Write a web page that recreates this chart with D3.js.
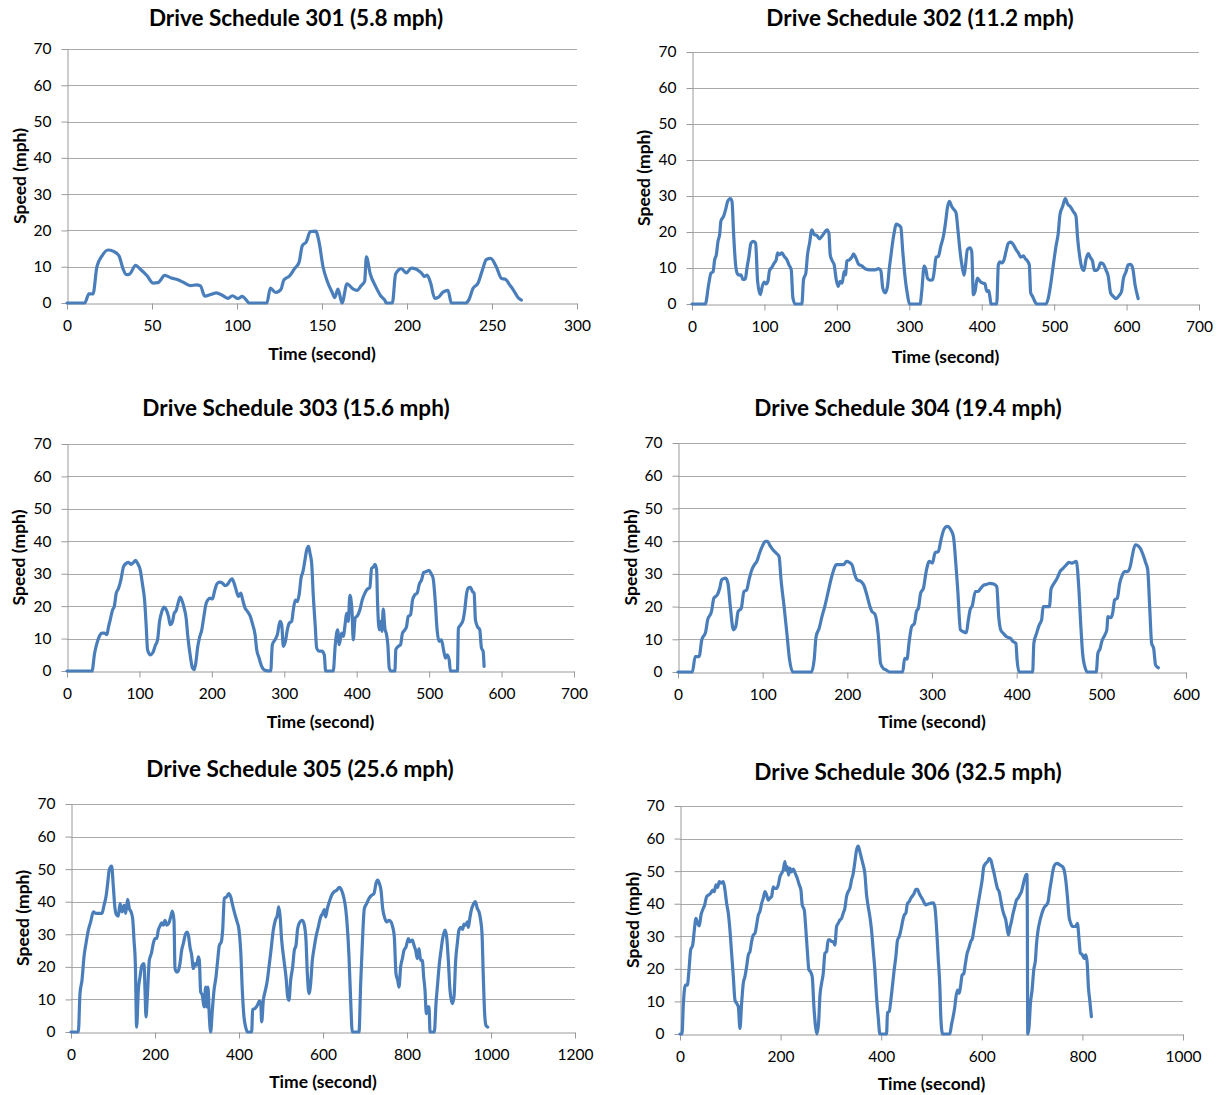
<!DOCTYPE html>
<html>
<head>
<meta charset="utf-8">
<script src="https://cdn.jsdelivr.net/npm/d3@7"></script>
<style>
  html, body { margin: 0; padding: 0; background: #fff; }
  svg { display: block; }
  text { font-family: Lato, "Liberation Sans", sans-serif; fill: #000; }
</style>
</head>
<body>
<svg id="chart" width="1221" height="1095"></svg>
<script>
// ---------------- DATA ----------------
const titles = [
  "Drive Schedule 301 (5.8 mph)",
  "Drive Schedule 302 (11.2 mph)",
  "Drive Schedule 303 (15.6 mph)",
  "Drive Schedule 304 (19.4 mph)",
  "Drive Schedule 305 (25.6 mph)",
  "Drive Schedule 306 (32.5 mph)"
];
const xAxisTitle = "Time (second)";
const yAxisTitle = "Speed (mph)";
const xMax = [300, 700, 700, 600, 1200, 1000];
const xTickStep = [50, 100, 100, 100, 200, 200];
const yTicks = [0, 10, 20, 30, 40, 50, 60, 70];

// [time (s), speed (mph)]
const speed301 = [[0,0],[10.4,0],[12.9,2.5],[15.3,2.5],[17.6,10],[20.6,13],[24.1,14.6],[27.1,14.3],[30.6,13],[32.9,9.5],[34.9,7.8],[36.9,8],[40.4,10.4],[42.7,9.5],[47.1,7.5],[50.6,5.5],[53.5,5.6],[57.5,7.6],[61.4,6.9],[65.3,6.4],[69.2,5.5],[72.7,4.8],[76.1,5],[78.5,4.7],[81,1.9],[84.9,2.4],[87.8,2.8],[91.8,2],[94.7,1.3],[97.3,2],[100.6,1.2],[103.1,1.8],[105.5,0.8],[107.1,0],[117.6,0],[119.6,4.1],[122.7,2.9],[125.9,3.8],[127.5,6.3],[131,7.5],[133.9,9.5],[136.5,11.2],[138.4,15.8],[140.8,16.9],[143.1,19.7],[146.3,19.8],[148.2,17],[150.6,10],[153.1,6],[156.1,2.8],[157.5,1.5],[159.4,3.8],[161.8,0],[164.7,5.3],[168.2,3.9],[170.6,3.5],[173.1,4.8],[175.1,6],[176.1,12.7],[178.4,8],[181.6,4.5],[184.5,2],[186.9,0.8],[187.8,0],[191.4,0],[193.3,8],[196.7,9.5],[199.6,8.3],[202.5,9.6],[205.5,9.3],[208.4,8.3],[210.4,7.3],[211.8,7.7],[213.9,5.5],[216.3,1.3],[218.2,1.5],[221.2,3],[224.1,3.5],[226.1,0],[234.5,0],[236.5,1],[238.8,4],[241.8,5.5],[244.3,9],[246.7,12],[249.2,12.3],[252.5,10],[255.5,6.8],[258,6.5],[260.4,5],[262.7,3.5],[265.3,1.5],[267.3,0.8]];

const speed302 = [[0,0],[18.4,0],[23,5.4],[26.2,8.6],[29,8.9],[31.3,12.3],[33.6,13.7],[35.9,17.4],[38.2,19.3],[40,23.1],[43.7,24.4],[46.4,26.2],[49.2,28.5],[52.9,29.3],[55.2,28.5],[57.5,19.3],[60.2,10.9],[63,8.3],[65.7,8],[67.6,8.1],[70.3,6.8],[73.6,7],[75.9,10],[78.6,13.2],[81.4,16.9],[85,17.4],[87.8,16.9],[90.6,6.3],[94.3,2.6],[97,4.9],[99.8,6.1],[102.5,5.6],[104.8,6.3],[107.1,9.3],[110.3,10.2],[113.6,11.4],[116.3,12.3],[118.2,14.2],[120.9,13.7],[124.1,14.2],[127.4,13.2],[131,12.3],[133.8,10.9],[137,9.5],[139.3,1.7],[142.5,0],[151.7,0],[154,6.8],[157.2,8.6],[159.5,13.7],[162.3,16.9],[165.5,20.6],[168.7,19.3],[172.4,19],[176.1,18.1],[179.3,18.8],[182.5,19.7],[186.2,20.6],[189,19.7],[190.8,13.7],[193.6,12],[196.3,10.9],[199.1,6.8],[201.8,4.9],[204.6,6.3],[207.4,5.8],[210.1,9.1],[212,8.1],[213.8,11.9],[217.5,12.3],[220.7,13],[223,13.9],[226.7,12.6],[229.9,11.1],[234.5,10.6],[239.1,9.8],[246,9.5],[252.9,9.5],[257.5,9.8],[260.7,9.3],[263.4,4.4],[266.7,3.1],[269.9,4.9],[272.2,9.5],[274.5,13.2],[277.2,17.4],[279.5,20.2],[281.8,22.2],[285.1,21.9],[288.3,21.3],[291,14.6],[294.3,7.2],[297.5,2.6],[300.2,0],[315,0],[317.2,3.5],[320.5,10.5],[323.2,9.3],[325.1,7.2],[328.7,6.6],[332.4,6.8],[334.7,9.5],[337,13],[340.2,13.2],[343.4,16],[347.1,18.8],[350.3,23],[352.6,26.7],[355.4,28.5],[358.6,27.1],[361.8,26.2],[364.6,25.3],[366.9,21.1],[370.1,14.6],[372.9,10.5],[375.6,8],[377.5,10.5],[380.2,15.1],[383.9,15.6],[386.2,14.6],[388.5,2.6],[390.8,3.5],[394,7.2],[397.7,6.3],[401.4,5.8],[404.6,5.6],[406.9,3.5],[409.7,3.7],[411.5,1.7],[412.9,0],[420.7,0],[423,10.9],[425.3,11.7],[428,11.4],[430.8,12.3],[433.6,14.6],[436.8,16.9],[440.5,17.2],[443.7,16.5],[447.4,15.1],[450.6,14.2],[453.8,13],[457.5,13.4],[460.2,12.6],[463,12],[465.7,10.9],[467.6,3.1],[470.3,2.1],[473.6,0.6],[475.9,0],[488.7,0],[492,1.7],[495.2,5.4],[498.9,10.9],[502.5,16],[505.7,19.7],[508,24.8],[511.7,27.1],[515.4,29.3],[518.6,27.8],[522.8,26.9],[526.4,25.7],[530.1,24.4],[532.4,18.3],[535.6,12.8],[538.4,10],[541.1,9.3],[543.9,12.3],[547.1,14],[550.3,12.8],[553.1,11.9],[555.4,9.3],[558.6,9.3],[561.4,10],[564.1,11.4],[567.8,11.1],[571.5,9.5],[574.7,7.7],[577.9,3.1],[581.6,2.1],[585.3,1.5],[589.9,2.4],[593.1,3.5],[595.4,6.8],[599.1,8.9],[602.3,10.9],[605,11],[608,10.3],[612,5],[616,1.5]];

const speed303 = [[0,0],[34.5,0],[38.1,5.5],[41.4,8.6],[45,10.9],[48.3,11.7],[51.5,11.7],[55.1,11.2],[57.4,13.7],[59.7,15.8],[63,18.9],[65.3,19.9],[68,24],[71.2,25.5],[74.4,28.1],[78.1,32.2],[81.8,33.2],[85,33.5],[88.2,32.9],[91.9,33.5],[94.7,34.1],[97.4,33.2],[101.1,31.2],[104.3,26.6],[107.1,21.9],[109.4,13.7],[111.2,6.6],[114.9,5],[118.6,5.7],[121.8,7.8],[125,9.6],[127.8,15.3],[131,18.4],[134.2,19.7],[137,18.9],[140.2,16.8],[142.5,14.3],[145.7,15.3],[148,17.8],[150.7,18.6],[154,21.4],[156.3,22.8],[158.5,21.9],[161.8,19.4],[164.5,16.3],[166.8,10.7],[170,5],[173.3,0.9],[175.6,0.4],[177.8,2.5],[180.6,7.6],[182.9,10.2],[186.1,12.7],[189.3,17.3],[191.6,20.4],[194.4,21.9],[197.6,22.5],[200.8,22.2],[203.6,24.5],[206.8,26.8],[210.5,27.4],[214.6,27.1],[218.3,26.3],[222,26.8],[225.2,27.9],[227.9,28.4],[230.7,27.1],[233.5,25],[236.7,23],[239.9,24],[242.6,21.9],[245.9,19.4],[249.1,18.4],[252.8,17],[256.4,14.3],[259.7,11.2],[261.9,6.6],[265.2,4],[268.8,1.4],[273.4,0.2],[281.3,0],[283.5,8.1],[287.2,9.6],[290.4,11.2],[294.1,15.3],[296.4,14.3],[298.7,7.6],[301.5,9.1],[304.2,12.7],[307,14.8],[310.2,15.3],[312.5,18.9],[315.3,21.9],[318,21.4],[320.8,24],[323.1,28.6],[325.8,30.7],[328.6,34.3],[330.9,37.3],[333.6,38.4],[335.5,36.3],[337.8,33.2],[340.1,23],[342.8,13.7],[344.7,7.1],[348.3,6.1],[352,6.1],[355.2,5],[357.1,0],[367.6,0],[370.4,8.1],[373.6,12.7],[375.9,8.1],[379.1,11.7],[381.4,10.7],[384.2,14.8],[386,17.8],[388.3,15.3],[390.6,23.3],[393.4,18.9],[395.2,9.6],[397.9,16.3],[401.2,17.1],[404.4,18.9],[407.6,21.9],[411.3,24],[414.5,25.2],[418.2,25.8],[420.5,31.7],[422.8,32],[425.1,32.9],[427.4,31.4],[428.8,20.9],[431.1,12.7],[433,15.3],[434.8,12.2],[436.6,19.1],[438.9,13.2],[441.2,11.2],[443,8.1],[444.9,0.9],[447.2,0],[452.7,0],[454,6.6],[457.3,7.6],[460.5,8.1],[463.2,11.7],[466.5,12.7],[468.8,13.7],[471.1,16.8],[474.3,17.3],[477.1,21.9],[480.3,23.5],[483.5,24],[486.2,26.6],[489.5,28.1],[492.6,30.4],[496.3,30.7],[500,31],[503.2,29.8],[505.5,28.6],[508.3,21.9],[511,12.7],[513.8,9.1],[517,9.6],[520.2,6.1],[522.5,4],[524.8,5],[527.6,3.5],[529.4,0],[539.1,0],[540.4,13.2],[543.7,14.3],[546.9,15.8],[549.2,18.9],[551.5,23.5],[553.8,25.5],[557,25.8],[559.8,24.5],[562.1,24],[563.9,15.8],[566.7,13.7],[569.9,12.7],[572.2,7.1],[574.5,6.1],[575.9,1.4]];

const speed304 = [[0,0],[17,0],[20.3,4.7],[24.9,4.7],[28.1,9.8],[32.7,12.3],[35,15.9],[39.6,18.5],[42.4,22.6],[46.5,23.6],[49.3,25.6],[51.6,28.2],[56.2,28.7],[59,27.1],[61.8,20],[65.4,12.9],[68.2,13.9],[71,18.5],[74.7,19.5],[77.9,24.6],[81.1,25.1],[83.9,28.2],[87.1,31.2],[90.3,32.8],[93.1,33.8],[96.3,36.3],[99.5,38.4],[103.2,39.9],[105.5,39.9],[108.8,38.6],[112.4,37.3],[116.1,36.3],[119.4,35.3],[121.7,28.2],[125.3,20],[128.6,11.8],[131.8,3.7],[135.5,0],[157.6,0],[160.8,3.7],[163.1,10.8],[166.8,13.4],[170,16.9],[173.3,20],[177,24.1],[180.6,28.2],[183.9,31.2],[187.1,32.8],[190.8,32.8],[195.4,32.8],[199.1,33.8],[202.3,33.5],[205.5,32.8],[208.3,30.2],[211.5,28.2],[216.1,27.7],[219.4,26.6],[223,23.6],[226.7,20],[229,18.5],[232.3,17.8],[235,14.9],[236.9,10.3],[239.2,2.7],[242.4,1.1],[246.1,0.6],[249.8,0],[265.4,0],[267.7,4.2],[270.5,3.9],[272.8,8.8],[276,13.9],[279.3,14.9],[281.6,18.5],[283.9,19.5],[286.6,24.1],[289.9,25.6],[293.1,30.7],[296.8,33.8],[300.5,33.3],[303.7,36.5],[307.4,36.8],[310.6,40.4],[314.3,43.7],[318,44.5],[322.1,43.5],[325.3,41.4],[328.1,33.3],[330.4,25.1],[333.6,12.9],[337.3,12.3],[340.6,12],[342.9,15.9],[345.2,19.2],[347.5,20.2],[351.2,24.6],[354.4,24.6],[357.6,25.6],[361.3,26.6],[365,26.8],[368.2,27.1],[372.8,26.9],[376.5,26.1],[378.8,16.9],[381.1,12.9],[384.3,11.8],[388,10.8],[392.6,10.3],[395.9,9.3],[399.1,8.8],[400.5,3.7],[402.8,0],[418.9,0],[420.3,8.8],[423.5,11.8],[426.7,14.4],[429.5,15.9],[431.3,20],[435,20],[438.7,20],[440.6,25.3],[444.2,27.1],[447.9,28.7],[451.2,30.7],[454.8,31.7],[458.1,32.6],[461.8,33.5],[465,33.3],[467.3,33.5],[470.5,33.8],[473.3,26.1],[475.6,14.9],[477.9,5.7],[481.1,1.1],[483.4,0],[494,0],[495.9,5.7],[498.6,7.2],[500.5,9.3],[504.1,11.3],[506.5,12.9],[507.8,16.9],[511.1,16.6],[513.4,18],[515.7,22],[518.9,22.6],[521.7,27.1],[524.9,29.7],[527.2,30.7],[530.9,30.7],[534.1,32.2],[536.4,35.3],[540.1,38.9],[543.3,38.6],[546.5,37.6],[549.3,35.8],[552.5,33.3],[554.8,31.2],[557.1,20],[559.4,8.8],[561.8,7.2],[564.1,2.1],[567.3,1.3]];

const speed305 = [[0,0],[17.5,0],[21.4,11.8],[26.2,15.9],[31,23.1],[35.7,27.2],[41.3,31.3],[46.8,33.8],[53.2,36.9],[59.5,36.4],[67.5,36.4],[73.8,36.4],[78.6,38.9],[83.3,41.5],[87.3,45.6],[91.3,49.9],[96.8,50.9],[100.8,44.6],[104.8,37.9],[108.7,35.9],[112.7,35.6],[116.7,39.4],[121.4,36.9],[126.2,38.9],[130.2,36.4],[134.9,40.7],[138.9,37.9],[142.9,36.9],[146.8,34.8],[150,28.2],[153.2,21],[156.3,1.5],[160.3,12.8],[164.3,16.9],[169,20.5],[173.8,21],[176.2,12.8],[178.6,4.6],[181.7,10.8],[186.5,22],[191.3,24.1],[196,27.2],[200,28.7],[204,28.7],[207.9,31.3],[211.9,32.5],[215.9,33.5],[219.8,32.8],[223.8,34.3],[227.8,32.8],[232.5,33.3],[237.3,35.3],[241.3,37.1],[245.2,34.3],[247.6,19.5],[251.6,18.4],[255.6,18.8],[259.5,21],[263.5,25.1],[267.5,27.2],[273,30.2],[277,30.7],[280.2,29.2],[283.3,26.1],[287.3,23.6],[291.3,19.5],[295.2,21],[299.2,20.5],[303.2,23.1],[305.6,22],[308.7,12.3],[312.7,11.3],[316.7,7.7],[320.6,13.8],[323,7.7],[326.2,13.8],[329.4,4.6],[332.5,0],[336.5,6.7],[340.5,12.8],[345.2,16.9],[349.2,22],[353.2,26.6],[357.9,27.7],[361.1,31.3],[365.1,41],[370.6,41.5],[375.4,42.5],[380.2,41.5],[384.9,38.9],[389.7,36.4],[394.4,34.3],[400,31.3],[404,25.1],[407.9,12.8],[411.9,4.6],[415.9,1.5],[419.8,0],[430.2,0],[432.5,6.9],[438.1,7.2],[443.7,8.2],[448.4,9.5],[451.6,9.2],[454,3.1],[457.9,9.7],[461.9,12.3],[467.5,15.9],[471.4,20],[476.2,25.1],[481.7,31.3],[486.5,34.3],[491.3,35.9],[494.4,38.4],[497.6,35.9],[501.6,28.2],[507.1,22],[511.9,16.9],[515.9,10.8],[519,9.7],[523,15.9],[527.8,20],[531.7,25.1],[535.7,26.6],[539.7,31.8],[545.2,33.8],[550.8,34.3],[555.6,32.8],[559.5,28.2],[562.7,17.9],[566.7,11.8],[570.6,14.9],[574.6,22],[578.6,25.6],[583.3,29.2],[588.9,32.3],[594.4,35.3],[599.2,36.4],[603.2,37.6],[606.3,35.3],[610.3,37.9],[615.1,40],[620.6,42],[626.2,43],[632.5,43.5],[638.9,44.4],[644.4,43.5],[650,41],[654,37.9],[657.9,32.3],[661.9,23.1],[665.9,9.7],[669.8,0],[685.7,0],[689.7,14.9],[693.7,27.2],[698.4,37.9],[704,39.4],[709.5,41],[715.9,42],[721.4,42.5],[726.2,45.6],[730.2,46.6],[734.1,45.6],[738.1,43.5],[742.1,37.9],[747.6,34.8],[751.6,33.8],[757.1,34.3],[761.9,33.8],[765.9,32.3],[769.8,29.2],[773.8,17.9],[777.8,15.9],[781,13.8],[784.9,20],[788.9,22.5],[792.9,25.1],[797.6,26.1],[803.2,28.7],[807.1,27.7],[812.7,28.2],[816.7,26.6],[820.6,25.1],[824.6,22.5],[828.6,25.6],[832.5,22],[836.5,22],[839.7,16.9],[842.9,12.8],[846,5.6],[849.2,7.7],[852.4,7.7],[854.8,0],[865.1,0],[869,8.7],[873,14.9],[877,21],[881,25.1],[884.9,28.7],[890.5,31.3],[894.4,29.2],[898.4,22],[902.4,12.8],[907.9,8.7],[911.9,10.8],[915.9,22],[919.8,27.2],[923.8,31.3],[928.6,32.1],[932.5,31.5],[935.7,33.1],[939.7,32.8],[943.7,33.8],[946,32.1],[950,35.3],[954,37.9],[957.9,39.2],[962.7,40],[967.5,37.9],[971.4,36.9],[975.4,34.3],[978.6,30.2],[981.7,16.9],[984.9,5.6],[988.1,2],[992.1,1.5]];

const speed306 = [[0,0],[4,0],[6.6,8.9],[10.6,15],[14.6,15],[17.9,19.7],[21.2,25.8],[25.2,27.3],[28.5,31.9],[31.8,35.5],[35.1,34],[38.4,33.2],[41.7,36.5],[45,38.1],[49,39.6],[53,42.2],[57,42.7],[60.9,43.2],[64.9,44.2],[68.2,43.7],[71.5,45.8],[74.8,45],[78.1,46.8],[81.5,46.3],[86.1,46.8],[89.4,44.2],[92.7,40.1],[96,37.1],[99.3,31.9],[102.6,24.8],[106,17.6],[109.3,10.4],[112.6,9.4],[115.9,8.4],[119.2,1.7],[122.5,9.4],[125.8,15.6],[129.1,17.6],[132.5,20.7],[135.8,24.3],[139.1,25.3],[142.4,28.4],[145.7,30.4],[149,30.9],[152.3,33.5],[155.6,36.5],[158.9,37.6],[162.3,40.1],[165.6,41.7],[168.9,43.7],[172.2,42.7],[175.5,41.1],[178.8,41.7],[182.1,42.2],[185.4,45.2],[188.7,44.7],[192.1,44.7],[195.4,45.8],[198.7,48.3],[202,49.3],[205.3,50.4],[208.6,52.9],[210.6,50.4],[213.2,51.4],[215.9,48.8],[218.5,50.9],[221.2,49.8],[225.2,50.6],[229.1,49.3],[233.1,47.8],[237.1,45.8],[240.4,44.2],[243,39.6],[247,38.1],[250.3,31.9],[253,25.8],[256.3,19.7],[259.6,19.1],[262.9,17.6],[266.2,8.4],[269.5,2.3],[272.2,0],[275.5,3.3],[278.1,11.5],[281.5,15.6],[284.8,18.6],[288.1,24.8],[291.4,25.3],[294.7,28.9],[298,28.9],[301.3,28.4],[304.6,28.4],[307.9,27.3],[311.3,33],[314.6,34],[317.9,35],[321.2,35.5],[324.5,37.1],[327.8,38.6],[331.1,42.2],[334.4,43.7],[337.7,44.7],[341.1,47.3],[344.4,49.3],[347.7,52.9],[351,56.5],[354.3,57.7],[357.6,56],[360.9,53.9],[364.2,51.9],[367.5,49.3],[370.9,42.7],[374.2,39.1],[377.5,36],[380.8,31.9],[384.1,25.8],[387.4,19.7],[390.7,11.5],[394,5.3],[397.4,0],[410.6,0],[412.6,6.6],[415.9,6.9],[419.2,10.4],[422.5,15],[425.8,19.7],[429.1,23.7],[432.5,28.9],[435.8,29.9],[439.1,31.9],[442.4,34.5],[445.7,36.5],[449,37.1],[452.3,40.1],[455.6,40.6],[458.9,41.7],[462.3,42.4],[465.6,43.2],[468.9,44.4],[472.2,44.4],[475.5,43.2],[478.8,42.2],[482.1,41.4],[485.4,40.3],[488.7,39.6],[493.4,39.9],[498,40.1],[503.3,40.3],[506.6,39.1],[509.9,33],[513.2,23.7],[516.6,14.5],[518.5,5.3],[521.9,0],[536.4,0],[539.7,2.8],[543,5.3],[546.4,8.4],[548.3,11],[551.7,13.5],[555,12.5],[557.6,14.5],[560.9,18.1],[564.2,18.6],[567.5,21.7],[570.9,24.8],[574.2,26.3],[578.1,28.4],[581.5,29.4],[584.1,31.9],[587.4,35],[590.7,38.1],[594,41.1],[597.4,44.2],[600.7,47.3],[604,51.4],[608,52.4],[611.3,52.9],[614.6,53.9],[617.9,53.4],[621.2,51.4],[624.5,49.3],[627.8,46.8],[631.1,44.7],[634.4,43.7],[637.7,41.1],[641.1,38.3],[644.4,36.5],[647.7,35],[650.3,32.4],[653,30.4],[655.6,32.4],[658.9,34.5],[662.3,37.1],[665.6,39.1],[668.9,41.1],[672.2,41.7],[675.5,42.7],[678.8,43.7],[682.1,45.8],[685.4,47.8],[688.7,49],[690.1,48.8],[691.4,0],[694,2.3],[696.7,9.4],[700,13.5],[703.3,19.7],[706.6,22.7],[708.6,27.3],[711.9,31.9],[715.2,34.5],[718.5,36.5],[721.9,38.1],[725.2,39.1],[728.5,39.6],[731.8,40.6],[735.1,44.2],[738.4,47.3],[741.7,50.4],[746.4,52.2],[750.3,52.4],[755,51.9],[760.3,51.4],[763.6,50.4],[766.9,47.3],[770.2,42.2],[773.5,36],[776.8,34],[780.1,33],[783.4,33],[786.8,33],[790.1,34],[793.4,28.9],[796,24.8],[800,24.3],[803.3,23.2],[806.6,24.3],[809.3,22.2],[811.9,14.5],[814.6,10.4],[817.9,5.3]];

const series = [speed301, speed302, speed303, speed304, speed305, speed306];

// ---------------- LAYOUT (positions only) ----------------
const frames = [
  { x0: 67,  x1: 577,  y0: 49,  y1: 303,  tx: 296, ty: 17,  xt: 353,  yt: 19 },
  { x0: 692, x1: 1199, y0: 52,  y1: 304,  tx: 920, ty: 17,  xt: 356,  yt: 643 },
  { x0: 67,  x1: 574,  y0: 444, y1: 671,  tx: 296, ty: 407, xt: 721,  yt: 18 },
  { x0: 678, x1: 1186, y0: 443, y1: 672,  tx: 908, ty: 407, xt: 721,  yt: 630 },
  { x0: 71,  x1: 575,  y0: 804, y1: 1032, tx: 300, ty: 768, xt: 1081, yt: 22 },
  { x0: 680, x1: 1183, y0: 806, y1: 1034, tx: 908, ty: 771, xt: 1083, yt: 632 }
];

const LINE = "#4a7ebb", AXIS = "#9a9a9a", GRID = "#aaaaaa";
const svg = d3.select("#chart");

frames.forEach((f, i) => {
  const x = d3.scaleLinear().domain([0, xMax[i]]).range([f.x0, f.x1]);
  const y = d3.scaleLinear().domain([0, 70]).range([f.y1, f.y0]);
  const g = svg.append("g");

  // gridlines
  g.append("g").selectAll("line").data(yTicks.filter(d => d > 0)).join("line")
    .attr("x1", f.x0).attr("x2", f.x1)
    .attr("y1", d => Math.round(y(d)) + 0.5).attr("y2", d => Math.round(y(d)) + 0.5)
    .attr("stroke", GRID).attr("stroke-width", 1);

  // x axis
  const xt = d3.range(0, xMax[i] + 1, xTickStep[i]);
  const xa = g.append("g").attr("transform", `translate(0,${Math.round(f.y1) + 0.5})`)
    .call(d3.axisBottom(x).tickValues(xt).tickFormat(d3.format("d")).tickSize(6).tickPadding(10).tickSizeOuter(0));
  // y axis
  const ya = g.append("g").attr("transform", `translate(${Math.round(f.x0) + 0.5},0)`)
    .call(d3.axisLeft(y).tickValues(yTicks).tickSize(6).tickPadding(10).tickSizeOuter(0));
  [xa, ya].forEach(a => {
    a.select(".domain").attr("stroke", AXIS);
    a.selectAll(".tick line").attr("stroke", AXIS);
    a.selectAll(".tick text").attr("font-family", "Lato, sans-serif").attr("font-size", 15.5).attr("fill", "#000");
  });

  // line
  const line = d3.line().x(d => x(d[0])).y(d => y(d[1])).curve(d3.curveMonotoneX);
  g.append("path").datum(series[i]).attr("d", line)
    .attr("fill", "none").attr("stroke", LINE).attr("stroke-width", 3.2)
    .attr("stroke-linejoin", "round").attr("stroke-linecap", "round");

  // titles
  g.append("text").attr("x", f.tx).attr("y", f.ty).attr("text-anchor", "middle")
    .attr("dominant-baseline", "central").attr("font-size", 22.5).attr("font-weight", "bold")
    .text(titles[i]);
  g.append("text").attr("x", (f.x0 + f.x1) / 2).attr("y", f.xt).attr("text-anchor", "middle")
    .attr("dominant-baseline", "central").attr("font-size", 17.5).attr("font-weight", "bold")
    .text(xAxisTitle);
  g.append("text").attr("transform", `translate(${f.yt},${(f.y0 + f.y1) / 2}) rotate(-90)`)
    .attr("text-anchor", "middle").attr("dominant-baseline", "central")
    .attr("font-size", 17.5).attr("font-weight", "bold").text(yAxisTitle);
});
</script>
</body>
</html>
